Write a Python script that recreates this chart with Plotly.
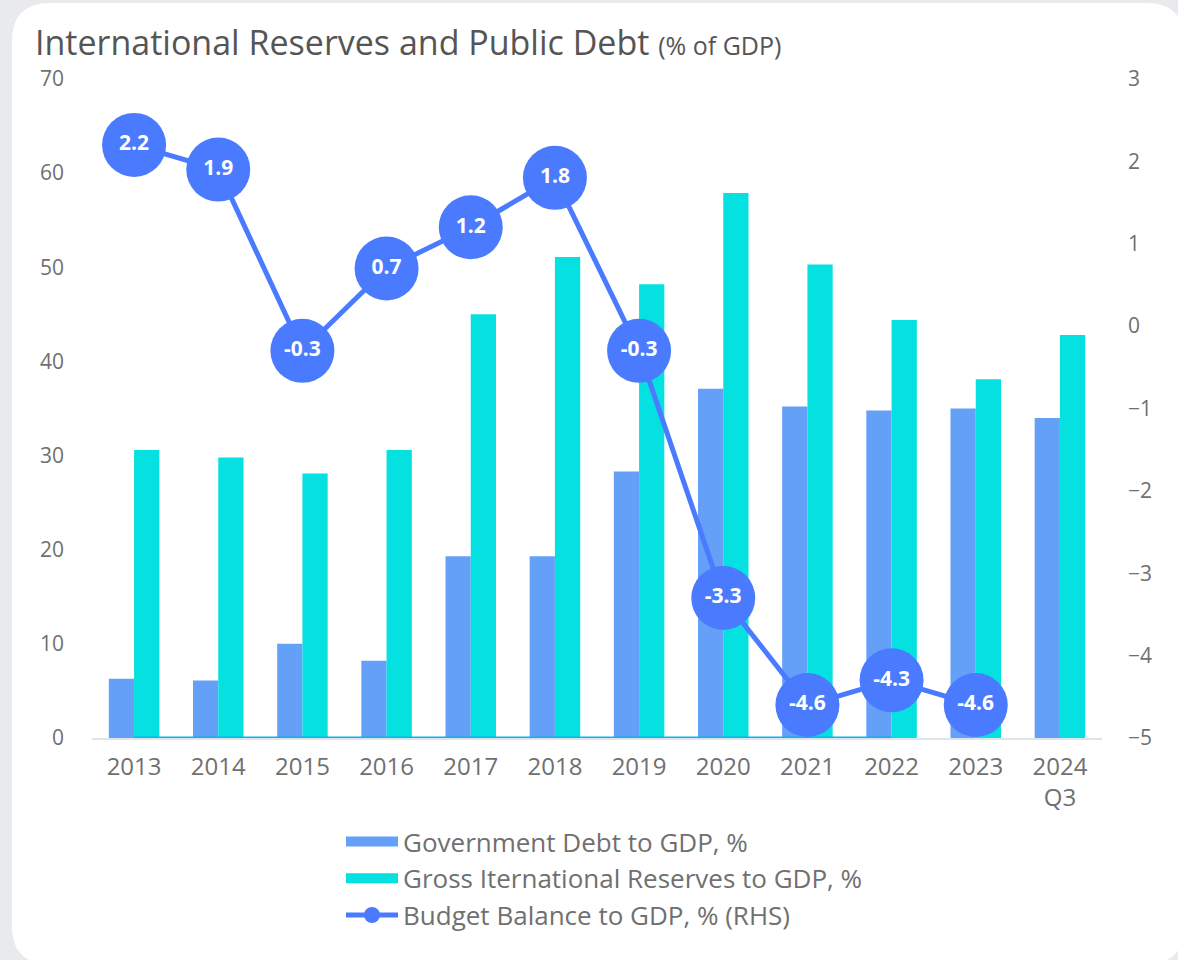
import plotly.graph_objects as go

# Category labels and series values (% of GDP)
years = ["2013", "2014", "2015", "2016", "2017", "2018", "2019", "2020",
         "2021", "2022", "2023", "2024<br>Q3"]
gov_debt = [6.3, 6.1, 10.0, 8.2, 19.3, 19.3, 28.3, 37.1, 35.2, 34.8, 35.0, 34.0]
reserves = [30.6, 29.8, 28.1, 30.6, 45.0, 51.1, 48.2, 57.9, 50.3, 44.4, 38.1, 42.8]
budget_balance = [2.2, 1.9, -0.3, 0.7, 1.2, 1.8, -0.3, -3.3, -4.6, -4.3, -4.6, None]
baseline_years = years[:10]
baseline_values = [0] * 10

left_ticks = [0, 10, 20, 30, 40, 50, 60, 70]
right_ticks = [3, 2, 1, 0, -1, -2, -3, -4, -5]

W, H = 1178, 960
ML, MR, MT, MB = 92, 76, 79, 222
PW, PH = W - ML - MR, H - MT - MB

TEXT = "#707070"
FONT = "Open Sans"
DEBT_COLOR = "#64a0f8"
RES_COLOR = "#05e1e1"
BAL_COLOR = "#4a7bff"


def px_x(x):
    return (x - ML) / PW


def px_y(y):
    return (H - MB - y) / PH


def rounded_rect(x0, y0, x1, y1, r):
    X0, X1 = px_x(x0), px_x(x1)
    Y0, Y1 = px_y(y0), px_y(y1)
    rx, ry = r / PW, r / PH
    return (f"M {X0 + rx} {Y0} L {X1 - rx} {Y0} Q {X1} {Y0} {X1} {Y0 - ry} "
            f"L {X1} {Y1 + ry} Q {X1} {Y1} {X1 - rx} {Y1} "
            f"L {X0 + rx} {Y1} Q {X0} {Y1} {X0} {Y1 + ry} "
            f"L {X0} {Y0 - ry} Q {X0} {Y0} {X0 + rx} {Y0} Z")


fig = go.Figure()

fig.add_trace(go.Bar(
    x=years, y=gov_debt, name="Government Debt to GDP, %",
    legendgroup="debt", showlegend=False,
    marker=dict(color=DEBT_COLOR, line=dict(width=0)),
))
fig.add_trace(go.Bar(
    x=years, y=reserves, name="Gross Iternational Reserves to GDP, %",
    legendgroup="res", showlegend=False,
    marker=dict(color=RES_COLOR, line=dict(width=0)),
))
fig.add_trace(go.Scatter(
    x=baseline_years, y=baseline_values, mode="lines", showlegend=False,
    line=dict(color="#0ab4ea", width=3), hoverinfo="skip",
))
fig.add_trace(go.Scatter(
    x=years, y=budget_balance, yaxis="y2", name="Budget Balance to GDP, % (RHS)",
    mode="lines+markers+text", legendrank=3,
    line=dict(color=BAL_COLOR, width=5),
    marker=dict(color=BAL_COLOR, size=64, line=dict(width=0)),
    text=[f"{v:.1f}" if v is not None else "" for v in budget_balance],
    textposition="middle center",
    textfont=dict(family=FONT, size=21, color="white", weight="bold"),
    cliponaxis=False,
))

# Wide rectangular legend keys for the two bar series
fig.add_trace(go.Scatter(
    x=[None], y=[None], mode="lines", name="Government Debt to GDP, %",
    legendgroup="debt", legendrank=1, line=dict(color=DEBT_COLOR, width=16),
))
fig.add_trace(go.Scatter(
    x=[None], y=[None], mode="lines", name="Gross Iternational Reserves to GDP, %",
    legendgroup="res", legendrank=2, line=dict(color=RES_COLOR, width=16),
))

fig.update_layout(
    width=W, height=H,
    margin=dict(l=ML, r=MR, t=MT, b=MB),
    paper_bgcolor="#e9eaee",
    plot_bgcolor="rgba(0,0,0,0)",
    font=dict(family=FONT, color=TEXT, size=21),
    barmode="group", bargap=0.4, bargroupgap=0,
    showlegend=True,
    legend=dict(
        orientation="v", x=px_x(341), y=px_y(818), xanchor="left", yanchor="top",
        font=dict(size=26, color=TEXT), bgcolor="rgba(0,0,0,0)",
        itemwidth=52, tracegroupgap=0, traceorder="normal",
    ),
    title=dict(
        text="International Reserves and Public Debt <span style='font-size:25px'>(% of GDP)</span>",
        x=35 / W, xref="container", xanchor="left",
        y=1 - 43 / H, yref="container", yanchor="middle",
        font=dict(size=34, color="#555555", family=FONT),
    ),
    xaxis=dict(
        type="category", range=[-0.5, 11.5],
        showgrid=False, showline=True, linecolor="#dde4ec", linewidth=2,
        ticks="", tickfont=dict(size=24, color=TEXT), ticklabelstandoff=6,
        fixedrange=True,
    ),
    yaxis=dict(
        range=[0, 70], tickvals=left_ticks, showgrid=False, zeroline=False,
        showline=False, ticks="", tickfont=dict(size=21, color=TEXT),
        ticklabelstandoff=27,
    ),
    yaxis2=dict(
        range=[-5, 3], tickvals=right_ticks, overlaying="y", side="right",
        showgrid=False, zeroline=False, showline=False, ticks="",
        tickfont=dict(size=21, color=TEXT), ticklabelstandoff=25,
    ),
    shapes=[dict(
        type="path", xref="paper", yref="paper", layer="below",
        path=rounded_rect(12, 3, 1184, 964, 38),
        fillcolor="white", line=dict(width=0),
    )],
)

fig.write_html("out.html")
